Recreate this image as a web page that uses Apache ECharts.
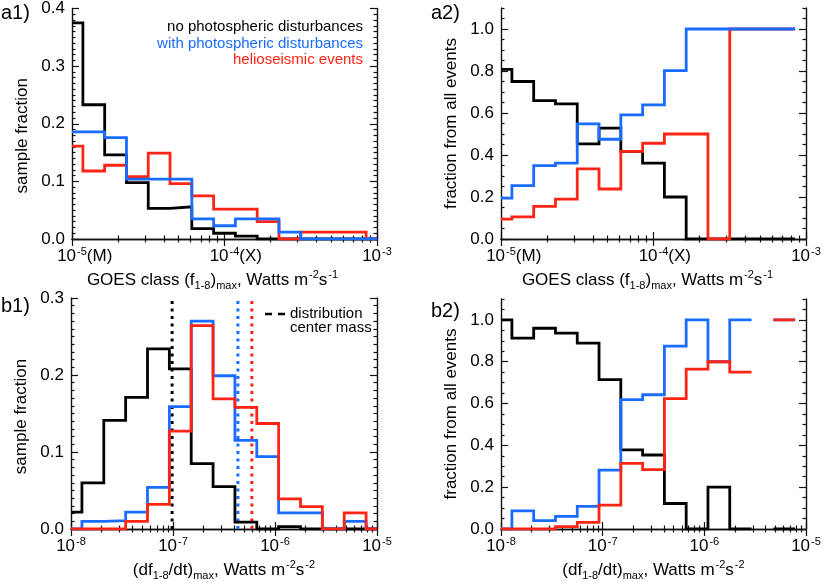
<!DOCTYPE html>
<html><head><meta charset="utf-8">
<script src="https://cdn.jsdelivr.net/npm/echarts@6/dist/echarts.min.js"></script>
<style>html,body{margin:0;padding:0;background:#fff}#c{width:830px;height:582px}</style>
</head><body><div id="c"></div>
<script>
// ---------- data ----------
// GOES class bins (a panels): 15 bins, centres at 10^(-5 + k/7)
const aLogMin = -5, aLogStep = 1 / 7;
// derivative bins (b panels): 15 bins, centres at 10^(-8 + 3k/14)
const bLogMin = -8, bLogStep = 3 / 14;

const a1Black = [0.375, 0.233, 0.146, 0.098, 0.053, 0.056, 0.018, 0.010, 0.005, 0, 0, 0, 0, 0, 0];
const a1Blue  = [0.186, 0.186, 0.176, 0.104, 0.104, 0.104, 0.035, 0.023, 0.035, 0.035, 0.012, 0, 0, 0, 0];
const a1Red   = [0.161, 0.118, 0.128, 0.108, 0.149, 0.096, 0.075, 0.052, 0.052, 0.030, 0, 0.012, 0.012, 0.012, 0];

const a2Black = [0.808, 0.750, 0.659, 0.643, 0.453, 0.528, 0.417, 0.361, 0.200, 0, 0, 0, 0, 0, null];
const a2Blue  = [0.195, 0.254, 0.349, 0.361, 0.548, 0.475, 0.591, 0.639, 0.802, 1, 1, 1, 1, 1, null];
const a2Red   = [0.095, 0.105, 0.155, 0.190, 0.334, 0.238, 0.417, 0.456, 0.500, 0.500, 0, 1, 1, 1, null];

const b1Black = [0.022, 0.060, 0.141, 0.171, 0.234, 0.208, 0.085, 0.055, 0.009, 0, 0.003, 0, 0, 0, 0];
const b1Blue  = [0, 0.010, 0.011, 0.022, 0.054, 0.159, 0.270, 0.199, 0.115, 0.094, 0.021, 0.021, 0, 0.010, 0];
const b1Red   = [0, 0, 0, 0.010, 0.032, 0.127, 0.264, 0.169, 0.158, 0.137, 0.039, 0.029, 0, 0.021, 0];

const b2Black = [1.000, 0.913, 0.960, 0.937, 0.889, 0.714, 0.378, 0.354, 0.122, 0, 0.200, 0, null, 0, null];
const b2Blue  = [0, 0.087, 0.040, 0.060, 0.108, 0.282, 0.619, 0.642, 0.875, 1.000, 0.800, 1.000, null, 1.000, null];
const b2Red   = [0, 0, 0, 0.011, 0.032, 0.114, 0.314, 0.284, 0.624, 0.765, 0.800, 0.750, null, 1.000, null];

// centre-of-mass markers (b1)
const b1CentreBlack = 9.8e-8;
const b1CentreBlue  = 4.33e-7;
const b1CentreRed   = 5.93e-7;

const aMajorTicks = [1e-5, 1e-4, 1e-3];
const bMajorTicks = [1e-8, 1e-7, 1e-6, 1e-5];
const aTickSuffix = { '-5': '(M)', '-4': '(X)', '-3': '' };

const legendA = ['no photospheric disturbances', 'with photospheric disturbances', 'helioseismic events'];
const legendB = ['distribution', 'center mass'];

// ---------- styling ----------
const FONT = '"Liberation Sans", Arial, Helvetica, sans-serif';
const BLACK = '#000000', BLUE = '#1a6cff', RED = '#ff2414';
const LW = 2.8;

function logMinors(e0, e1) {
  const out = [];
  for (let e = e0; e < e1; e++) for (let m = 2; m <= 9; m++) out.push(m * Math.pow(10, e));
  return out;
}
function linTicks(max, step, every, wantMajor) {
  const out = [];
  const n = Math.round(max / step);
  for (let i = 0; i <= n; i++) {
    const isMaj = i % every === 0;
    if (isMaj === wantMajor) out.push(+(i * step).toFixed(4));
  }
  return out;
}

function stepData(vals, logMin, logStep) {
  const out = [];
  const n = vals.length;
  for (let k = 0; k < n; k++) {
    const v = vals[k];
    if (v === null) { out.push([Math.pow(10, logMin + k * logStep), '-']); continue; }
    const lo = Math.max(k - 0.5, 0), hi = Math.min(k + 0.5, n - 1);
    out.push([Math.pow(10, logMin + lo * logStep), v]);
    out.push([Math.pow(10, logMin + hi * logStep), v]);
  }
  return out;
}

const grids = [
  { left: 72, top: 7, width: 305, height: 232 },
  { left: 501, top: 8, width: 305, height: 231 },
  { left: 71, top: 298, width: 306, height: 231 },
  { left: 501, top: 299, width: 305, height: 231 }
];

const xAxes = [], yAxes = [], series = [];
const supRich = {
  sup: { fontSize: 11, fontFamily: FONT, color: '#000', verticalAlign: 'top', padding: [0, 0, 0, 1] },
  sub: { fontSize: 11, fontFamily: FONT, color: '#000', verticalAlign: 'bottom' },
  hid: { fontSize: 17, fontFamily: FONT, color: 'rgba(0,0,0,0)' }
};

function addPanel(gi, cfg) {
  const base = xAxes.length;
  const axLine = { show: true, lineStyle: { color: '#111', width: 1.4 } };
  const mk = (pos, ticks, len, showLine, label) => ({
    type: 'log', logBase: 10, gridIndex: gi, position: pos,
    min: cfg.xMin, max: cfg.xMax,
    axisLine: showLine ? axLine : { show: false },
    axisTick: { show: true, inside: true, length: len, customValues: ticks, lineStyle: { color: '#111', width: 1.2 } },
    axisLabel: label ? {
      show: true, customValues: cfg.xMaj, margin: 7, fontSize: 17, fontFamily: FONT, color: '#000',
      lineHeight: 20, rich: supRich, formatter: cfg.xFmt
    } : { show: false },
    splitLine: { show: false }, minorTick: { show: false },
    name: label ? cfg.xName : '', nameLocation: 'middle', nameGap: 30,
    nameTextStyle: { fontSize: 17, fontFamily: FONT, color: '#000', lineHeight: 22, rich: supRich, padding: cfg.xNamePad || 0 }
  });
  xAxes.push(mk('bottom', cfg.xMaj, 7, true, true));
  xAxes.push(mk('bottom', cfg.xMinor, 3.5, false, false));
  xAxes.push(mk('top', cfg.xMaj, 7, true, false));
  xAxes.push(mk('top', cfg.xMinor, 3.5, false, false));

  const ybase = yAxes.length;
  const mky = (pos, ticks, len, showLine, label) => ({
    type: 'value', gridIndex: gi, position: pos, min: 0, max: cfg.yMax,
    axisLine: showLine ? axLine : { show: false },
    axisTick: { show: true, inside: true, length: len, customValues: ticks, lineStyle: { color: '#111', width: 1.2 } },
    axisLabel: label ? { show: true, customValues: cfg.yMaj, margin: 7, fontSize: 17, fontFamily: FONT, color: '#000',
      formatter: v => v.toFixed(1) } : { show: false },
    splitLine: { show: false }, minorTick: { show: false },
    name: label ? cfg.yName : '', nameLocation: 'middle', nameGap: 41, nameRotate: 90,
    nameTextStyle: { fontSize: 17, fontFamily: FONT, color: '#000', padding: cfg.yNamePad || 0 }
  });
  yAxes.push(mky('left', cfg.yMaj, 7, true, true));
  yAxes.push(mky('left', cfg.yMinor, 3.5, false, false));
  yAxes.push(mky('right', cfg.yMaj, 7, true, false));
  yAxes.push(mky('right', cfg.yMinor, 3.5, false, false));

  cfg.lines.forEach((ln) => {
    series.push({
      type: 'line', xAxisIndex: base, yAxisIndex: ybase,
      data: stepData(ln.vals, cfg.logMin, cfg.logStep),
      showSymbol: false, symbol: 'none', connectNulls: false, clip: true,
      lineStyle: { color: ln.color, width: LW, cap: 'butt', join: 'miter' },
      itemStyle: { color: ln.color }, animation: false, z: 3
    });
  });
  (cfg.vlines || []).forEach((vl) => {
    series.push({
      type: 'line', xAxisIndex: base, yAxisIndex: ybase,
      data: [[vl.x, 0], [vl.x, cfg.yMax]],
      showSymbol: false, symbol: 'none',
      lineStyle: { color: vl.color, width: 3, type: [3, 4.5], cap: 'butt' },
      animation: false, z: 2
    });
  });
}

const aFmt = (v) => {
  const e = Math.round(Math.log10(v));
  const suf = aTickSuffix[String(e)] || '';
  return (suf ? '{hid|' + suf + '}' : '') + '10{sup|' + e + '}' + suf;
};
const bFmt = (v) => {
  const e = Math.round(Math.log10(v));
  return '10{sup|' + e + '}';
};

const aXName = 'GOES class (f{sub|1-8}){sub|max}, Watts m{sup|-2}s{sup|-1}';
const bXName = '(df{sub|1-8}/dt){sub|max}, Watts m{sup|-2}s{sup|-2}';

addPanel(0, {
  xMin: 1e-5, xMax: 1e-3, xMaj: aMajorTicks, xMinor: logMinors(-5, -3), xFmt: aFmt, xName: aXName, xNamePad: [0, 24, 0, 0],
  yMax: 0.4, yMaj: linTicks(0.4, 0.01, 10, true), yMinor: linTicks(0.4, 0.01, 10, false), yName: 'sample fraction', yNamePad: [0, 24, 0, 0],
  logMin: aLogMin, logStep: aLogStep,
  lines: [{ vals: a1Black, color: BLACK }, { vals: a1Red, color: RED }, { vals: a1Blue, color: BLUE }]
});
addPanel(1, {
  xMin: 1e-5, xMax: 1e-3, xMaj: aMajorTicks, xMinor: logMinors(-5, -3), xFmt: aFmt, xName: aXName, xNamePad: [0, 12, 0, 0],
  yMax: 1.1, yMaj: linTicks(1.0, 0.05, 4, true), yMinor: linTicks(1.1, 0.05, 4, false), yName: 'fraction from all events',
  logMin: aLogMin, logStep: aLogStep,
  lines: [{ vals: a2Black, color: BLACK }, { vals: a2Red, color: RED }, { vals: a2Blue, color: BLUE }]
});
addPanel(2, {
  xMin: 1e-8, xMax: 1e-5, xMaj: bMajorTicks, xMinor: logMinors(-8, -5), xFmt: bFmt, xName: bXName,
  yMax: 0.3, yMaj: linTicks(0.3, 0.01, 10, true), yMinor: linTicks(0.3, 0.01, 10, false), yName: 'sample fraction', yNamePad: [0, 6, 0, 0],
  logMin: bLogMin, logStep: bLogStep,
  lines: [{ vals: b1Black, color: BLACK }, { vals: b1Blue, color: BLUE }, { vals: b1Red, color: RED }],
  vlines: [{ x: b1CentreBlack, color: BLACK }, { x: b1CentreBlue, color: BLUE }, { x: b1CentreRed, color: RED }]
});
addPanel(3, {
  xMin: 1e-8, xMax: 1e-5, xMaj: bMajorTicks, xMinor: logMinors(-8, -5), xFmt: bFmt, xName: bXName,
  yMax: 1.1, yMaj: linTicks(1.0, 0.05, 4, true), yMinor: linTicks(1.1, 0.05, 4, false), yName: 'fraction from all events',
  logMin: bLogMin, logStep: bLogStep,
  lines: [{ vals: b2Black, color: BLACK }, { vals: b2Blue, color: BLUE }, { vals: b2Red, color: RED }]
});

const txt = (x, y, t, o) => ({
  type: 'text', left: x, top: y, silent: true, z: 10,
  style: Object.assign({ text: t, fontSize: 15, fontFamily: FONT, fill: '#000', textVerticalAlign: 'middle' }, o || {})
});

const graphic = [
  txt(1, 3, 'a1)', { fontSize: 20 }),
  txt(431, 3, 'a2)', { fontSize: 20 }),
  txt(1, 296, 'b1)', { fontSize: 20 }),
  txt(431, 301, 'b2)', { fontSize: 20 }),
  { type: 'text', silent: true, z: 10, style: { x: 363, y: 27, text: legendA[0], fontSize: 15, fontFamily: FONT, fill: BLACK, align: 'right', verticalAlign: 'middle' } },
  { type: 'text', silent: true, z: 10, style: { x: 363, y: 44, text: legendA[1], fontSize: 15, fontFamily: FONT, fill: BLUE, align: 'right', verticalAlign: 'middle' } },
  { type: 'text', silent: true, z: 10, style: { x: 363, y: 60, text: legendA[2], fontSize: 15, fontFamily: FONT, fill: RED, align: 'right', verticalAlign: 'middle' } },
  { type: 'line', silent: true, z: 10, shape: { x1: 265, y1: 314, x2: 286, y2: 314 }, style: { stroke: '#000', lineWidth: 2.5, lineDash: [7, 6] } },
  { type: 'text', silent: true, z: 10, style: { x: 290, y: 314, text: legendB[0], fontSize: 15, fontFamily: FONT, fill: '#000', align: 'left', verticalAlign: 'middle' } },
  { type: 'text', silent: true, z: 10, style: { x: 290, y: 328, text: legendB[1], fontSize: 15, fontFamily: FONT, fill: '#000', align: 'left', verticalAlign: 'middle' } }
];

const chart = echarts.init(document.getElementById('c'), null, { renderer: 'canvas' });
chart.setOption({
  backgroundColor: '#fff',
  animation: false,
  grid: grids,
  xAxis: xAxes,
  yAxis: yAxes,
  series: series,
  graphic: graphic
});
</script>
</body></html>
